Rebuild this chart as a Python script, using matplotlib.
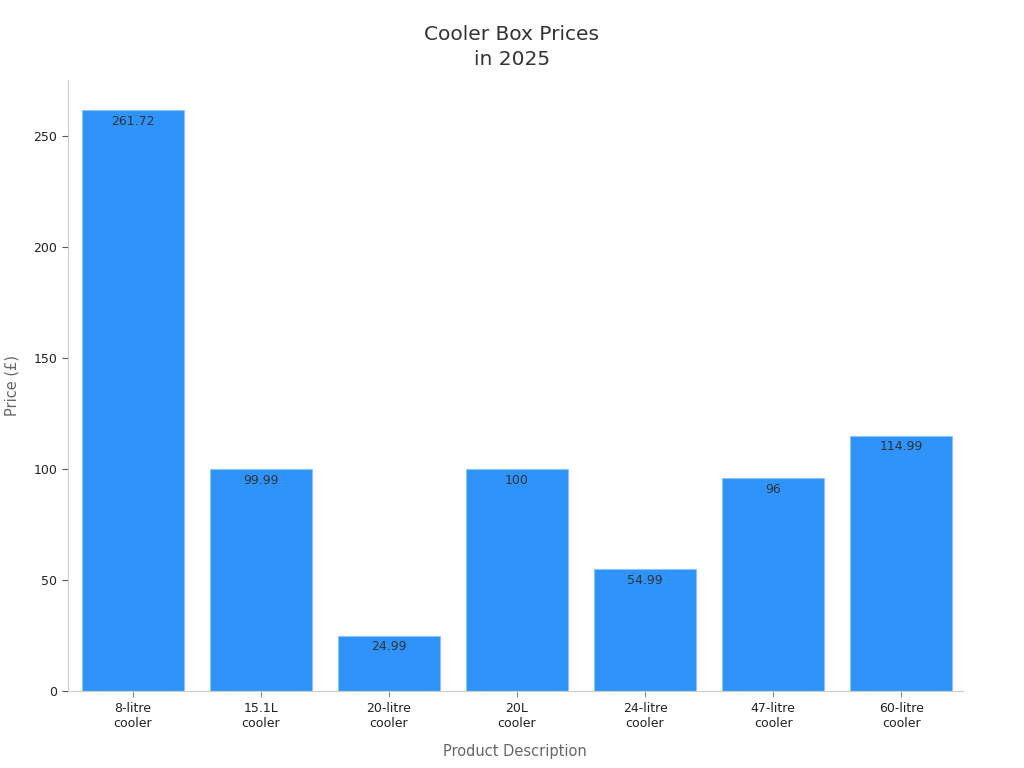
import matplotlib.pyplot as plt

# Data
products = ['8-litre\ncooler', '15.1L\ncooler', '20-litre\ncooler', '20L\ncooler',
            '24-litre\ncooler', '47-litre\ncooler', '60-litre\ncooler']
prices = [261.72, 99.99, 24.99, 100, 54.99, 96, 114.99]
value_labels = ['261.72', '99.99', '24.99', '100', '54.99', '96', '114.99']

fig = plt.figure(figsize=(10.24, 7.68), dpi=100)
ax = fig.add_axes([0.066, 0.100, 0.874, 0.796])

x = range(len(products))
bars = ax.bar(x, prices, width=0.8, color='#2E93FA', edgecolor='#8cc4f8', linewidth=0.8)

for b, lab in zip(bars, value_labels):
    ax.text(b.get_x() + b.get_width() / 2, b.get_height() - 2.0, lab,
            ha='center', va='top', fontsize=9, color='#333333')

ax.set_xticks(list(x))
ax.set_xticklabels(products, fontsize=9, color='#222222')
ax.set_yticks([0, 50, 100, 150, 200, 250])
ax.tick_params(axis='y', labelsize=9, labelcolor='#222222', color='#555555', length=4)
ax.tick_params(axis='x', color='#888888', length=4)
ax.set_xlim(-0.51, 6.48)
ax.set_ylim(0, 275.5)

for s in ['top', 'right']:
    ax.spines[s].set_visible(False)
for s in ['left', 'bottom']:
    ax.spines[s].set_color('#cccccc')

ax.set_xlabel('Product Description', fontsize=10.5, color='#666666', labelpad=10)
ax.set_ylabel('Price (£)', fontsize=10.5, color='#666666', labelpad=10)
fig.suptitle('Cooler Box Prices\nin 2025', fontsize=14.5, color='#333333',
             y=0.968, linespacing=1.45)

plt.savefig('out.png', dpi=100)
